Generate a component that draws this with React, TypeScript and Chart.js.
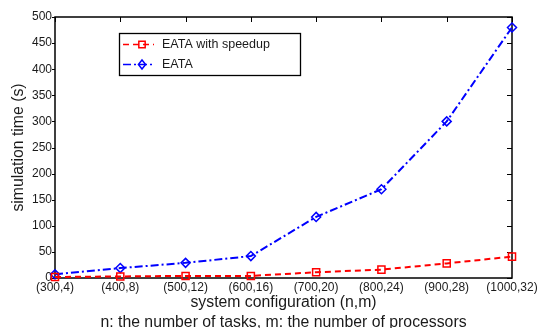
import React, { useEffect, useRef } from 'react';
import { Chart, registerables } from 'chart.js';

Chart.register(...registerables);

const categories = ['(300,4)', '(400,8)', '(500,12)', '(600,16)', '(700,20)', '(800,24)', '(900,28)', '(1000,32)'];
const speedupValues = [2, 3, 4, 4, 11, 16, 28, 41];
const eataValues = [7, 19, 29, 42, 117, 170, 300, 480];
const seriesNames = ['EATA with speedup', 'EATA'];
const yMin = 0;
const yMax = 500;
const yStep = 50;
const xTitle = ['system configuration (n,m)', 'n: the number of tasks, m: the number of processors'];
const yTitle = 'simulation time (s)';

const FONT = '"Liberation Sans", Arial, Helvetica, sans-serif';
const RED = 'rgb(255,0,0)';
const BLUE = 'rgb(0,0,255)';
const TXT = '#1a1a1a';

function drawMarker(ctx: CanvasRenderingContext2D, style: string, x: number, y: number, r: number) {
  ctx.beginPath();
  if (style === 'rect') {
    const s = Math.SQRT1_2 * r;
    ctx.rect(x - s, y - s, 2 * s, 2 * s);
  } else {
    ctx.moveTo(x - r * 0.8, y);
    ctx.lineTo(x, y - r);
    ctx.lineTo(x + r * 0.8, y);
    ctx.lineTo(x, y + r);
    ctx.closePath();
  }
  ctx.stroke();
}

const boxPlugin = {
  id: 'matlabBox',
  beforeDatasetsDraw(chart: any) {
    const { ctx, chartArea } = chart;
    const { left, right, top, bottom } = chartArea;
    const xs = chart.scales.x;
    const ys = chart.scales.y;
    ctx.save();
    ctx.setLineDash([]);
    ctx.strokeStyle = '#000';
    ctx.lineWidth = 1.5;
    ctx.strokeRect(left, top, right - left, bottom - top);
    ctx.lineWidth = 1;
    ctx.beginPath();
    xs.ticks.forEach((_: any, i: number) => {
      const px = Math.round(xs.getPixelForTick(i)) + 0.5;
      ctx.moveTo(px, top);
      ctx.lineTo(px, top + 5);
    });
    ys.ticks.forEach((_: any, i: number) => {
      const py = Math.round(ys.getPixelForTick(i)) + 0.5;
      ctx.moveTo(right - 5, py);
      ctx.lineTo(right, py);
      ctx.moveTo(left - 3, py);
      ctx.lineTo(left, py);
    });
    ctx.stroke();
    ctx.restore();
  },
  afterDraw(chart: any) {
    const { ctx } = chart;
    ctx.save();
    const bx = 119.5, by = 33.5, bw = 181, bh = 42;
    ctx.fillStyle = '#fff';
    ctx.fillRect(bx, by, bw, bh);
    ctx.strokeStyle = '#000';
    ctx.lineWidth = 1.3;
    ctx.setLineDash([]);
    ctx.strokeRect(bx, by, bw, bh);
    chart.data.datasets.forEach((ds: any, i: number) => {
      const ly = 44.5 + i * 20;
      ctx.strokeStyle = ds.borderColor;
      ctx.lineWidth = 1.6;
      ctx.setLineDash(ds.borderDash);
      ctx.beginPath();
      ctx.moveTo(123, ly);
      ctx.lineTo(154, ly);
      ctx.stroke();
      ctx.setLineDash([]);
      ctx.lineWidth = 1.5;
      drawMarker(ctx, ds.pointStyle, 142, ly, 4.5);
      ctx.fillStyle = TXT;
      ctx.font = `12.5px ${FONT}`;
      ctx.textAlign = 'left';
      ctx.textBaseline = 'middle';
      ctx.fillText(ds.label, 162, ly + 0.5);
    });
    ctx.restore();
  },
};

export default function App() {
  const ref = useRef<HTMLCanvasElement | null>(null);
  useEffect(() => {
    if (!ref.current) return;
    const chart = new Chart(ref.current, {
      type: 'line',
      data: {
        labels: categories,
        datasets: [
          {
            label: seriesNames[0],
            data: speedupValues,
            borderColor: RED,
            backgroundColor: 'transparent',
            borderWidth: 2,
            borderDash: [6, 4],
            pointStyle: 'rect',
            pointRadius: 5,
            pointBorderWidth: 1.5,
            pointBorderColor: RED,
            pointBackgroundColor: 'rgba(0,0,0,0)',
            tension: 0,
            clip: false,
          },
          {
            label: seriesNames[1],
            data: eataValues,
            borderColor: BLUE,
            backgroundColor: 'transparent',
            borderWidth: 2,
            borderDash: [8, 3, 2, 3],
            pointStyle: 'rectRot',
            pointRadius: 4.5,
            pointBorderWidth: 1.5,
            pointBorderColor: BLUE,
            pointBackgroundColor: 'rgba(0,0,0,0)',
            tension: 0,
            clip: false,
          },
        ],
      },
      options: {
        animation: false,
        responsive: false,
        maintainAspectRatio: false,
        devicePixelRatio: 1,
        layout: { padding: { left: 0, top: 17, right: 25, bottom: 0 } },
        plugins: { legend: { display: false }, tooltip: { enabled: false } },
        scales: {
          x: {
            type: 'category',
            offset: false,
            grid: { display: false, drawTicks: false },
            border: { display: false },
            ticks: {
              autoSkip: false,
              maxRotation: 0,
              minRotation: 0,
              padding: 2,
              color: TXT,
              font: { family: FONT, size: 12 },
            },
            title: {
              display: true,
              text: xTitle,
              color: TXT,
              font: { family: FONT, size: 15.8, lineHeight: 1.3 },
              padding: { top: 0, bottom: -5 },
            },
            afterFit(scale: any) {
              scale.height = 50;
              scale.paddingLeft = 0;
              scale.paddingRight = 0;
              scale.paddingTop = 0;
              scale.paddingBottom = 0;
            },
          },
          y: {
            min: yMin,
            max: yMax,
            grid: { display: false, drawTicks: false },
            border: { display: false },
            ticks: {
              stepSize: yStep,
              padding: 3,
              color: TXT,
              font: { family: FONT, size: 12 },
            },
            title: {
              display: true,
              text: yTitle,
              color: TXT,
              font: { family: FONT, size: 15.8, lineHeight: 1.3 },
              padding: { top: 8, bottom: 0 },
            },
            afterFit(scale: any) {
              scale.width = 55;
              scale.paddingLeft = 0;
              scale.paddingRight = 0;
              scale.paddingTop = 0;
              scale.paddingBottom = 0;
            },
          },
        },
      },
      plugins: [boxPlugin],
    });
    return () => chart.destroy();
  }, []);
  return (
    <div style={{ position: 'absolute', left: 0, top: 0, width: 537, height: 328, background: '#fff' }}>
      <canvas ref={ref} width={537} height={328} style={{ width: 537, height: 328, display: 'block' }} />
    </div>
  );
}
